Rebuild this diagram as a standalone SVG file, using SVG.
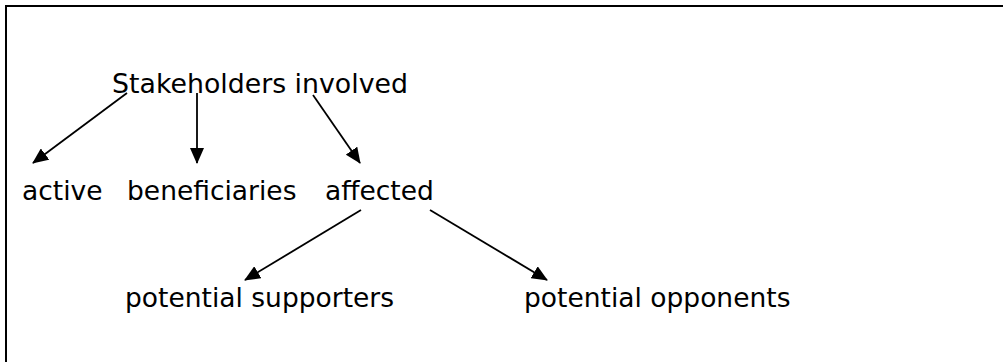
<svg xmlns="http://www.w3.org/2000/svg" width="1004" height="362" viewBox="0 0 1004 362">
<style>
text{font-family:"DejaVu Sans","Verdana",sans-serif;font-size:26.5px;fill:#000}
.c{stroke:#000;stroke-width:1.8;fill:none;marker-end:url(#ah)}
.frame{stroke:#000;stroke-width:2;fill:none}
</style>
<defs>
<marker id="ah" markerUnits="userSpaceOnUse" markerWidth="16" markerHeight="14" refX="15" refY="7" orient="auto" viewBox="0 0 16 14">
<path d="M0,0 L16,7 L0,14 z" fill="#000"/>
</marker>
</defs>
<polyline class="frame" points="6,362 6,6 1003,6"/>
<g id="stakeholders"><text x="112" y="93" textLength="296" lengthAdjust="spacingAndGlyphs">Stakeholders involved</text></g>
<g id="active"><text x="22" y="200">active</text></g>
<g id="beneficiaries"><text x="127" y="200">beneficiaries</text></g>
<g id="affected"><text x="325" y="200">affected</text></g>
<g id="supporters"><text x="125" y="307">potential supporters</text></g>
<g id="opponents"><text x="524" y="307">potential opponents</text></g>
<g id="connectors">
<line class="c" x1="127" y1="93" x2="33" y2="163"/>
<line class="c" x1="197" y1="93" x2="197" y2="163"/>
<line class="c" x1="313" y1="95" x2="360" y2="163"/>
<line class="c" x1="361" y1="210" x2="245" y2="280"/>
<line class="c" x1="430" y1="210" x2="547" y2="280"/>
</g>
</svg>
